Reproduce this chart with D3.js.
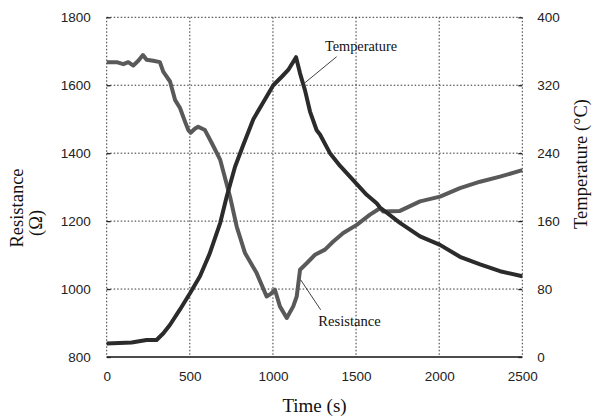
<!DOCTYPE html>
<html><head><meta charset="utf-8">
<script src="https://cdn.jsdelivr.net/npm/d3@7"></script>
<style>body{margin:0;background:#fff}svg{display:block}</style>
</head><body>
<svg id="c" width="594" height="417"></svg>
<script>
const resTime = [0,60,100,130,160,190,218,240,280,320,340,381,411,441,471,491,505,530,550,591,632,683,742,782,832,902,962,985,1012,1042,1083,1122,1143,1163,1203,1253,1313,1363,1423,1504,1584,1644,1664,1764,1885,2005,2125,2246,2366,2500];
const resistance = [1668,1668,1662,1668,1658,1672,1689,1675,1672,1668,1640,1611,1557,1533,1493,1468,1460,1472,1478,1468,1430,1380,1272,1184,1106,1047,978,985,998,949,915,949,978,1057,1076,1101,1116,1140,1165,1189,1219,1238,1228,1230,1258,1272,1297,1316,1331,1350];
const tempTime = [0,150,240,300,341,381,441,501,561,620,683,722,772,822,882,942,1002,1053,1092,1139,1163,1193,1223,1263,1283,1343,1404,1484,1564,1624,1644,1764,1885,2005,2125,2246,2366,2500];
const temperature = [16,17,20,20,28,38,56,75,95,122,158,189,224,250,280,300,320,330,338,353,334,314,289,267,262,240,225,208,191,181,176,158,142,132,118,109,101,95];
const xTicks = [0,500,1000,1500,2000,2500];
const resTicks = [800,1000,1200,1400,1600,1800];
const tempTicks = [0,80,160,240,320,400];

const svg = d3.select("#c");
const L=106.7, R=522.3, T=17.3, B=357;
const x = d3.scaleLinear().domain([0,2500]).range([L,R]);
const yR = d3.scaleLinear().domain([800,1800]).range([B,T]);
const yT = d3.scaleLinear().domain([0,400]).range([B,T]);

const grid = svg.append("g").attr("stroke","#333").attr("stroke-width",1).attr("stroke-dasharray","1.5,2");
grid.selectAll(".v").data(xTicks).join("line")
  .attr("x1",d=>x(d)).attr("x2",d=>x(d)).attr("y1",T).attr("y2",B);
grid.selectAll(".h").data(resTicks.slice(1)).join("line")
  .attr("x1",L).attr("x2",R).attr("y1",d=>yR(d)).attr("y2",d=>yR(d));

svg.append("line").attr("x1",L).attr("x2",R).attr("y1",B).attr("y2",B).attr("stroke","#111").attr("stroke-width",1.3);

const sans = "'Liberation Sans', Arial, sans-serif";
const serif = "'Liberation Serif', 'Times New Roman', serif";

const ax = svg.append("g").attr("transform",`translate(0,${B})`).call(d3.axisBottom(x).tickValues(xTicks).tickSize(0).tickPadding(14).tickFormat(d3.format("d")));
const axL = svg.append("g").attr("transform",`translate(${L},0)`).call(d3.axisLeft(yR).tickValues(resTicks).tickSizeInner(-4).tickSizeOuter(0).tickPadding(16).tickFormat(d3.format("d")));
const axR = svg.append("g").attr("transform",`translate(${R},0)`).call(d3.axisRight(yT).tickValues(tempTicks).tickSizeInner(-4).tickSizeOuter(0).tickPadding(15).tickFormat(d3.format("d")));
[ax,axL,axR].forEach(g=>{
  g.select(".domain").remove();
  g.selectAll("text").attr("font-family",sans).attr("font-size",13.5).attr("fill","#222");
  g.selectAll(".tick line").attr("stroke","#222").attr("stroke-width",1.3);
});

const lineR = d3.line().x((d,i)=>x(resTime[i])).y(d=>yR(d));
const lineT = d3.line().x((d,i)=>x(tempTime[i])).y(d=>yT(d));
svg.append("path").attr("d",lineR(resistance)).attr("fill","none").attr("stroke","#595959").attr("stroke-width",4).attr("stroke-linejoin","round");
svg.append("path").attr("d",lineT(temperature)).attr("fill","none").attr("stroke","#2b2b2b").attr("stroke-width",4).attr("stroke-linejoin","round");

// annotations
svg.append("line").attr("x1",x(1383)).attr("y1",yT(353.6)).attr("x2",x(1193)).attr("y2",yT(323)).attr("stroke","#111").attr("stroke-width",0.8);
svg.append("text").attr("x",x(1313)).attr("y",yT(360.4)).attr("font-family",serif).attr("font-size",14.3).attr("fill","#111").text("Temperature");
svg.append("line").attr("x1",x(1287)).attr("y1",yR(939)).attr("x2",x(1167)).attr("y2",yR(1027)).attr("stroke","#111").attr("stroke-width",0.8);
svg.append("text").attr("x",x(1273)).attr("y",yR(892)).attr("font-family",serif).attr("font-size",14.6).attr("fill","#111").text("Resistance");

// axis titles
svg.append("text").attr("x",(L+R)/2).attr("y",412).attr("text-anchor","middle").attr("font-family",serif).attr("font-size",19).attr("fill","#111").text("Time (s)");
svg.append("text").attr("transform","translate(23,208) rotate(-90)").attr("text-anchor","middle").attr("font-family",serif).attr("font-size",18.5).attr("fill","#111").text("Resistance");
svg.append("text").attr("transform","translate(42,223) rotate(-90)").attr("text-anchor","middle").attr("font-family",serif).attr("font-size",18.5).attr("fill","#111").text("(Ω)");
svg.append("text").attr("transform","translate(587,164) rotate(-90)").attr("text-anchor","middle").attr("font-family",serif).attr("font-size",18.5).attr("fill","#111").text("Temperature (°C)");
</script>
</body></html>
